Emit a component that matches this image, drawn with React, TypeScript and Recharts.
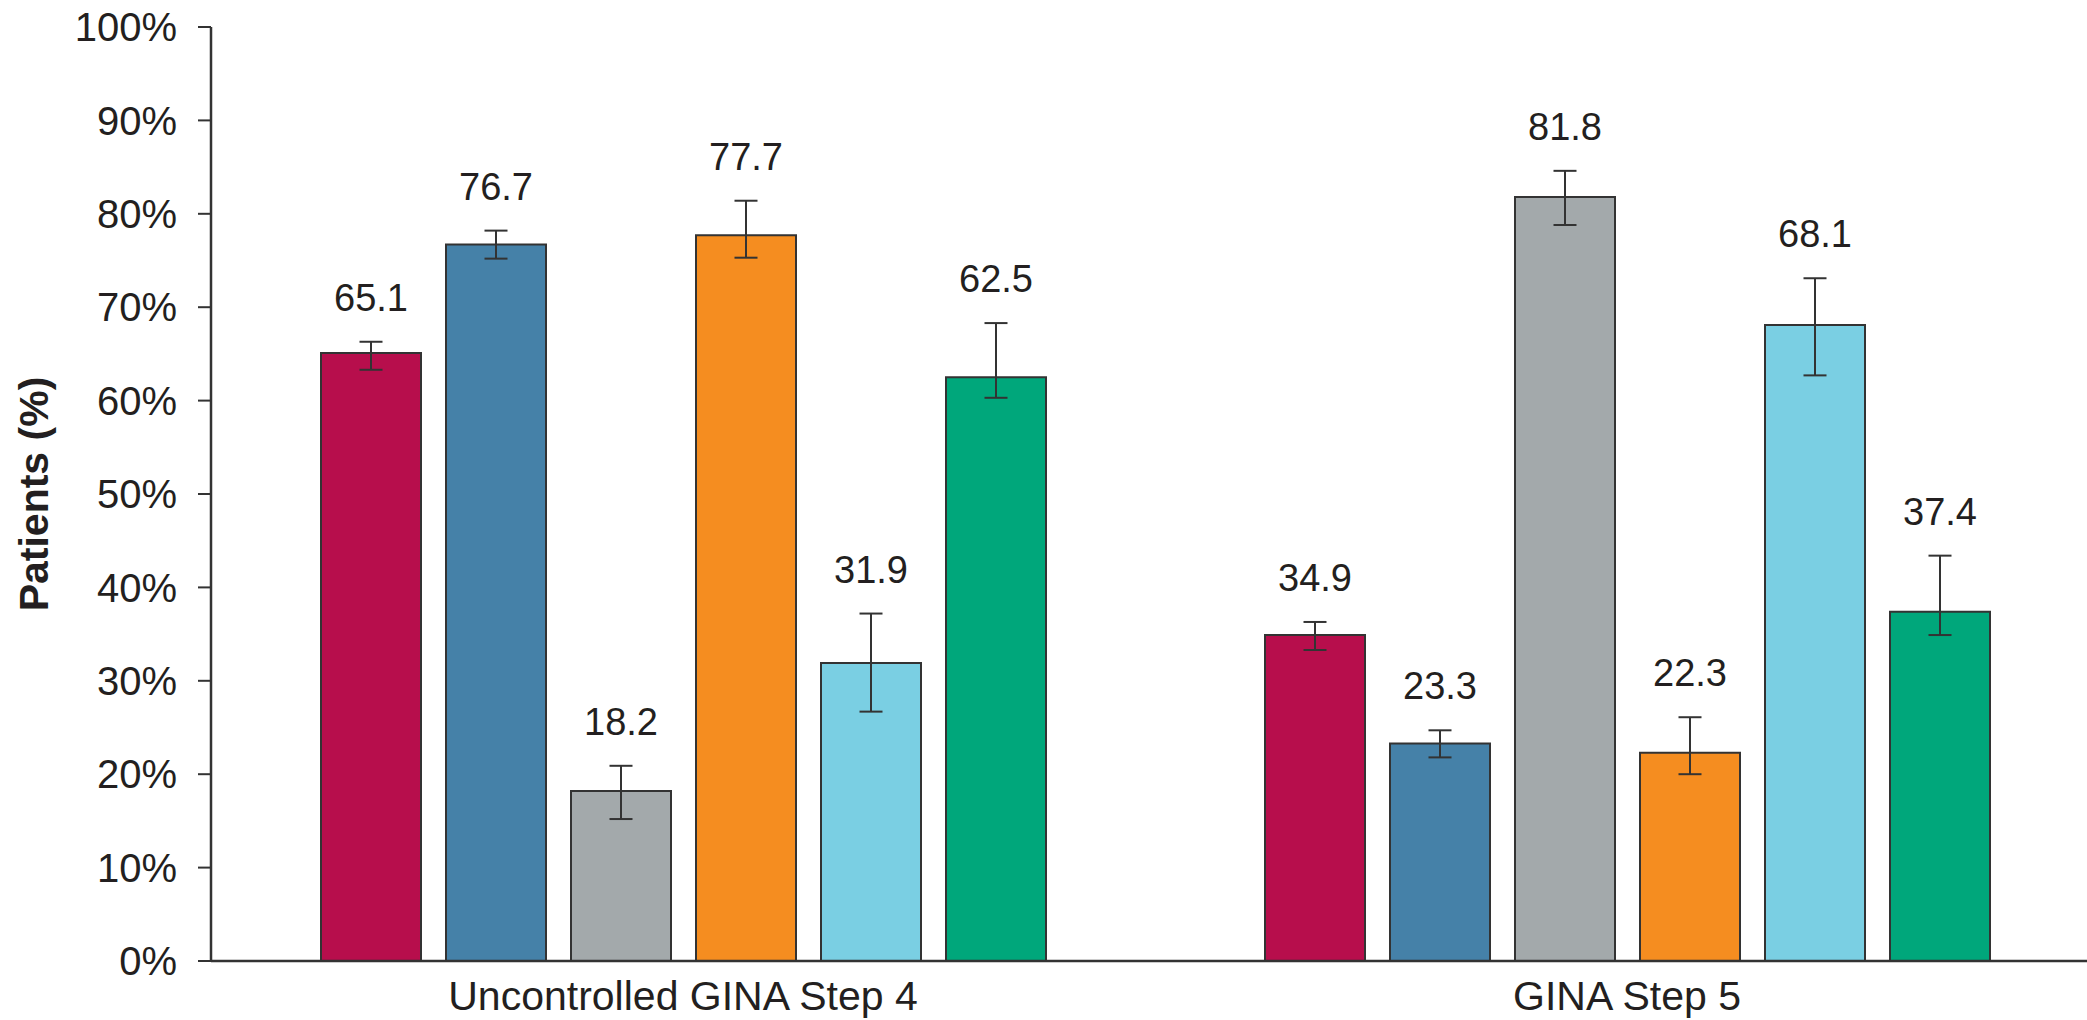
import React from "react";
import { BarChart, Bar, XAxis, YAxis, ErrorBar, LabelList } from "recharts";

const categories = ["Uncontrolled GINA Step 4", "GINA Step 5"];

const seriesKeys = ["s1", "s2", "s3", "s4", "s5", "s6"];
const seriesColors = ["#B70E4C", "#4581A8", "#A3A9AB", "#F58D20", "#7ACFE3", "#00A77B"];

const s1Values = [65.1, 34.9];
const s1Low = [63.3, 33.3];
const s1High = [66.3, 36.3];

const s2Values = [76.7, 23.3];
const s2Low = [75.2, 21.8];
const s2High = [78.2, 24.7];

const s3Values = [18.2, 81.8];
const s3Low = [15.2, 78.8];
const s3High = [20.9, 84.6];

const s4Values = [77.7, 22.3];
const s4Low = [75.3, 20.0];
const s4High = [81.4, 26.1];

const s5Values = [31.9, 68.1];
const s5Low = [26.7, 62.7];
const s5High = [37.2, 73.1];

const s6Values = [62.5, 37.4];
const s6Low = [60.3, 34.9];
const s6High = [68.3, 43.4];

const yTicks = [0, 10, 20, 30, 40, 50, 60, 70, 80, 90, 100];

const allValues = [s1Values, s2Values, s3Values, s4Values, s5Values, s6Values];
const allLow = [s1Low, s2Low, s3Low, s4Low, s5Low, s6Low];
const allHigh = [s1High, s2High, s3High, s4High, s5High, s6High];

const data = categories.map((c, i) => {
  const row: any = { category: c };
  seriesKeys.forEach((k, j) => {
    const v = allValues[j][i];
    row[k] = v;
    row[k + "Err"] = [v - allLow[j][i], allHigh[j][i] - v];
  });
  return row;
});

const FONT = "'Liberation Sans', Arial, Helvetica, sans-serif";
const TEXT = "#231F20";
const LINE = "#333333";

const makeLabel = (seriesIndex: number) => (props: any) => {
  const vb = props.viewBox || {};
  const x = props.x ?? vb.x;
  const y = props.y ?? vb.y;
  const width = props.width ?? vb.width;
  const height = props.height ?? vb.height;
  const value = Number(props.value);
  const index = props.index ?? 0;
  if (!value || !height) return null;
  const high = allHigh[seriesIndex][index];
  const base = y + height;
  const errTop = base - high * (height / value);
  return (
    <text
      x={x + width / 2}
      y={errTop - 31}
      textAnchor="middle"
      fontFamily={FONT}
      fontSize={38}
      fill={TEXT}
    >
      {value.toFixed(1)}
    </text>
  );
};

const XTick = (props: any) => {
  const { x, y, payload } = props;
  return (
    <text x={x} y={y + 49} textAnchor="middle" fontFamily={FONT} fontSize={41} fill={TEXT}>
      {payload.value}
    </text>
  );
};

const YTitle = (props: any) => {
  const vb = props.viewBox || { x: 0, y: 0, height: 934 };
  const cx = 34;
  const cy = vb.y + vb.height / 2;
  return (
    <text
      x={cx}
      y={cy}
      transform={`rotate(-90, ${cx}, ${cy})`}
      textAnchor="middle"
      dominantBaseline="central"
      fontFamily={FONT}
      fontSize={41}
      fontWeight="bold"
      fill={TEXT}
    >
      Patients (%)
    </text>
  );
};

export default function App() {
  return (
    <div style={{ position: "absolute", left: 0, top: 0, width: 2087, height: 1020, overflow: "hidden", background: "#fff" }}>
      <BarChart
        width={2099}
        height={1020}
        data={data}
        margin={{ top: 27, right: 0, bottom: 0, left: 0 }}
        barSize={100}
        barGap={25}
      >
        <XAxis
          dataKey="category"
          height={59}
          tickLine={false}
          tickSize={0}
          tickMargin={0}
          axisLine={{ stroke: LINE, strokeWidth: 2.5 }}
          tick={<XTick />}
          interval={0}
        />
        <YAxis
          width={211}
          domain={[0, 100]}
          ticks={yTicks}
          interval={0}
          tickFormatter={(v: number) => `${v}%`}
          tickSize={13}
          tickMargin={21}
          tickLine={{ stroke: LINE, strokeWidth: 2 }}
          axisLine={{ stroke: LINE, strokeWidth: 2.5 }}
          tick={{ fontFamily: FONT, fontSize: 40, fill: TEXT }}
          label={<YTitle />}
        />
        {seriesKeys.map((k, j) => (
          <Bar
            key={k}
            dataKey={k}
            fill={seriesColors[j]}
            stroke={LINE}
            strokeWidth={2}
            isAnimationActive={false}
          >
            <ErrorBar
              dataKey={k + "Err"}
              width={11.5}
              stroke={LINE}
              strokeWidth={2}
              direction="y"
              isAnimationActive={false}
            />
            <LabelList dataKey={k} content={makeLabel(j)} />
          </Bar>
        ))}
      </BarChart>
    </div>
  );
}
